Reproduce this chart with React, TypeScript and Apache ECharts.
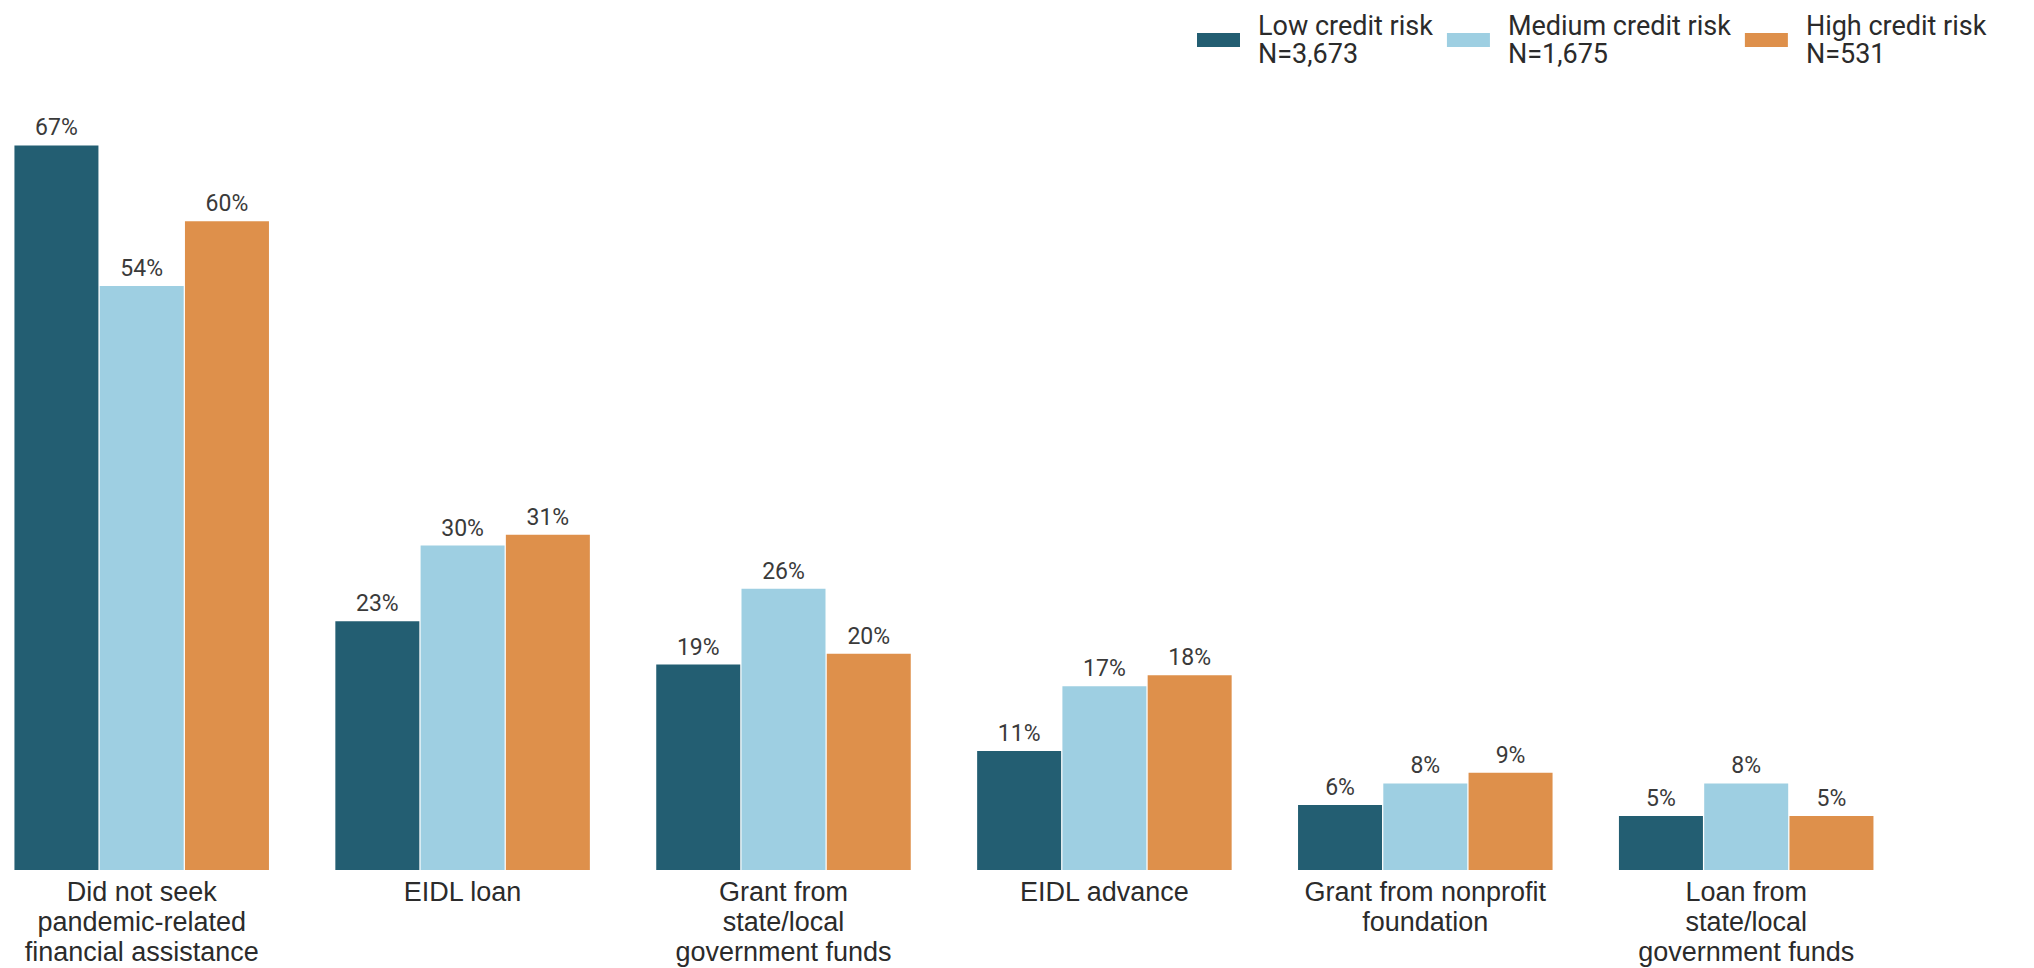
import React, { useEffect, useRef } from "react";
import * as echarts from "echarts";

const categories = [
  "Did not seek\npandemic-related\nfinancial assistance",
  "EIDL loan",
  "Grant from\nstate/local\ngovernment funds",
  "EIDL advance",
  "Grant from nonprofit\nfoundation",
  "Loan from\nstate/local\ngovernment funds",
];
const seriesNames = ["Low credit risk", "Medium credit risk", "High credit risk"];
const seriesN = ["N=3,673", "N=1,675", "N=531"];
const lowValues = [67, 23, 19, 11, 6, 5];
const mediumValues = [54, 30, 26, 17, 8, 8];
const highValues = [60, 31, 20, 18, 9, 5];
const colors = ["#235e72", "#9ecfe2", "#de904b"];

export default function App() {
  const ref = useRef<HTMLDivElement>(null);
  useEffect(() => {
    if (!ref.current) return;
    const chart = echarts.init(ref.current, null, { renderer: "svg" });
    const values = [lowValues, mediumValues, highValues];
    chart.setOption({
      animation: false,
      backgroundColor: "#ffffff",
      legend: {
        data: seriesNames,
        left: 1197,
        top: 12,
        padding: 0,
        itemWidth: 43,
        itemHeight: 14,
        itemGap: 14,
        icon: "rect",
        formatter: (name: string) => name + "\n" + seriesN[seriesNames.indexOf(name)],
        textStyle: {
          fontFamily: "Roboto",
          fontSize: 27,
          lineHeight: 28,
          color: "#2b2b2b",
          padding: [0, 0, 0, 13],
        },
      },
      grid: { left: 141.7, right: 287.8, top: 113, bottom: 98, containLabel: false },
      xAxis: {
        type: "category",
        data: categories,
        boundaryGap: false,
        axisLine: { show: false },
        axisTick: { show: false },
        splitLine: { show: false },
        axisLabel: {
          interval: 0,
          margin: 7,
          fontFamily: "Liberation Sans",
          fontSize: 27,
          lineHeight: 30,
          color: "#2b2b2b",
          verticalAlign: "top",
        },
      },
      yAxis: {
        type: "value",
        min: 0,
        max: 70,
        show: false,
        splitLine: { show: false },
      },
      series: values.map((v, i) => ({
        name: seriesNames[i],
        type: "bar",
        data: v,
        barWidth: 84,
        barGap: "1.5%",
        itemStyle: { color: colors[i] },
        label: {
          show: true,
          position: "top",
          distance: 6,
          formatter: "{c}%",
          fontFamily: "Roboto",
          fontSize: 23,
          color: "#3a3a3a",
        },
      })),
    });
    return () => chart.dispose();
  }, []);
  return (
    <div
      ref={ref}
      style={{ position: "fixed", left: 0, top: 0, width: 2034, height: 968, background: "#fff" }}
    />
  );
}
